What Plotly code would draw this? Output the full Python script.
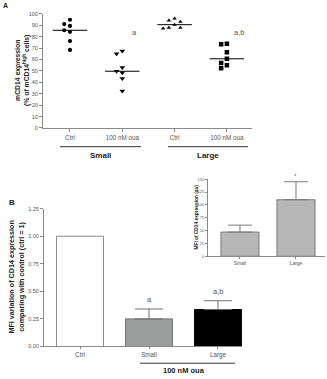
import plotly.graph_objects as go

W, H = 327, 379
def px(x): return x / W
def py(y): return 1 - y / H

# ---------------- data ----------------
a_ticklabels = ["Ctrl", "100 nM oua", "Ctrl", "100 nM oua"]
a_groups = ["Small", "Large"]
ctrl_small = [94.8, 91.0, 89.4, 85.6, 84.2, 76.1, 68.4]
oua_small = [67.5, 65.0, 52.9, 49.7, 48.3, 43.4, 32.5]
ctrl_large = [95.9, 94.2, 93.1, 90.5, 87.9, 87.9, 87.1]
oua_large = [73.9, 73.3, 66.4, 60.6, 56.9, 54.9, 52.3]
a_sig = ["", "a", "", "a,b"]

b_categories = ["Ctrl", "Small", "Large"]
b_values = [1.0, 0.25, 0.335]
b_sem = [0.0, 0.09, 0.08]
b_sig = ["", "a", "a,b"]
b_group = "100 nM oua"

inset_categories = ["Small", "Large"]
inset_values = [47, 110]
inset_sem = [13.5, 35]
inset_sig = ["", "*"]

# ---------------- helpers ----------------
FONT = "Liberation Sans, Arial, sans-serif"
AXC = "#8a8a8a"
TXC = "#555555"

def dodge(vals, thr=4.3, step=0.11):
    order = sorted(range(len(vals)), key=lambda i: -vals[i])
    placed, offs = [], [0.0] * len(vals)
    for i in order:
        for s in [0, -1, 1, -2, 2, -3, 3]:
            if all(not (ps == s and abs(vals[i] - pv) < thr) for ps, pv in placed):
                offs[i] = s * step
                placed.append((s, vals[i]))
                break
    return offs

def median(v):
    s = sorted(v)
    n = len(s)
    return s[n // 2] if n % 2 else (s[n // 2 - 1] + s[n // 2]) / 2

fig = go.Figure()

series_a = [ctrl_small, oua_small, ctrl_large, oua_large]
symbols = ["circle", "triangle-down", "triangle-up", "square"]
sizes = [4.2, 5, 4, 4.5]
for k, (vals, sym, sz) in enumerate(zip(series_a, symbols, sizes)):
    xc = k + 1
    offs = dodge(vals)
    fig.add_trace(go.Scatter(
        x=[xc + o for o in offs], y=vals, mode="markers",
        marker=dict(symbol=sym, size=sz, color="black", line=dict(width=0)),
        xaxis="x", yaxis="y", showlegend=False, hoverinfo="skip"))
    m = median(vals)
    fig.add_trace(go.Scatter(
        x=[xc - 0.33, xc + 0.33], y=[m, m], mode="lines",
        line=dict(color="black", width=1), xaxis="x", yaxis="y",
        showlegend=False, hoverinfo="skip"))

# panel B bars (one trace per bar so only bars with an error get one)
b_fill = ["white", "#9d9f9e", "#000000"]
b_line = ["#8a8a8a", "#6f6f6f", "#000000"]
for k in range(len(b_categories)):
    err = None
    if b_sem[k] > 0:
        err = dict(type="data", array=[b_sem[k]], arrayminus=[0], symmetric=False,
                   color="#6f6f6f", thickness=1, width=14)
    fig.add_trace(go.Bar(
        x=[k + 1], y=[b_values[k]], width=0.68,
        marker=dict(color=b_fill[k], line=dict(color=b_line[k], width=1)),
        error_y=err, xaxis="x2", yaxis="y2", showlegend=False, hoverinfo="skip"))

# inset bars
fig.add_trace(go.Bar(
    x=[1, 2], y=inset_values, width=0.68,
    marker=dict(color="#b7b7b7", line=dict(color="#7a7a7a", width=1)),
    error_y=dict(type="data", array=inset_sem, arrayminus=[0, 0], symmetric=False,
                 color="#7a7a7a", thickness=1, width=12),
    xaxis="x3", yaxis="y3", showlegend=False, hoverinfo="skip"))

def axis_style(**kw):
    d = dict(showline=True, linecolor=AXC, linewidth=1, showgrid=False,
             zeroline=False, ticks="outside", tickcolor=AXC, ticklen=3,
             tickwidth=1, tickfont=dict(family=FONT, size=6.3, color=TXC))
    d.update(kw)
    return d

fig.update_layout(
    width=W, height=H, margin=dict(l=0, r=0, t=0, b=0),
    paper_bgcolor="white", plot_bgcolor="rgba(0,0,0,0)",
    font=dict(family=FONT), barmode="overlay",
    xaxis=axis_style(domain=[px(43), px(252)], range=[0.484, 4.48], anchor="y",
                     tickvals=[1, 2, 3, 4], ticktext=a_ticklabels, ticklen=3.5),
    yaxis=axis_style(domain=[py(127), py(11)], range=[0, 100], anchor="x",
                     dtick=10, tickfont=dict(family=FONT, size=5.5, color=TXC)),
    xaxis2=axis_style(domain=[px(44), px(242)], range=[0.478, 3.348], anchor="y2",
                      tickvals=[1, 2, 3], ticktext=b_categories, ticklen=2),
    yaxis2=axis_style(domain=[py(349), py(209)], range=[0, 1.25], anchor="x2",
                      tickvals=[0, 0.25, 0.5, 0.75, 1.0, 1.25], tickformat=".2f",
                      tickfont=dict(family=FONT, size=5.5, color=TXC)),
    xaxis3=axis_style(domain=[px(208), px(325)], range=[0.429, 2.518], anchor="y3",
                      tickvals=[1, 2], ticktext=inset_categories, ticklen=2,
                      tickfont=dict(family=FONT, size=5, color=TXC)),
    yaxis3=axis_style(domain=[py(257.3), py(179)], range=[0, 150], anchor="x3",
                      dtick=25, ticklen=2,
                      tickfont=dict(family=FONT, size=4, color=TXC)),
)

ann = []
def A(**kw):
    base = dict(showarrow=False, xanchor="center", yanchor="middle",
                font=dict(family=FONT, size=6, color="#222"))
    base.update(kw)
    ann.append(base)

# panel letters
A(text="<b>A</b>", x=px(5), y=py(3), xref="paper", yref="paper", font=dict(family=FONT, size=7, color="#222"))
A(text="<b>B</b>", x=px(12), y=py(203), xref="paper", yref="paper", font=dict(family=FONT, size=8, color="#222"))

# panel A y-title
A(text="<b>mCD14 expression</b><br><b>(% of mCD14<sup>high</sup> cells)</b>",
  x=px(23), y=py(69), xref="paper", yref="paper", textangle=-90,
  font=dict(family=FONT, size=6.8, color="#222"))

# panel A significance
for k, s in enumerate(a_sig):
    if s:
        A(text=s, x=k + 1 + 0.24, y=84, xref="x", yref="y",
          font=dict(family=FONT, size=7.5, color="#555"))

# panel A groups
for g, (x0, x1) in zip(a_groups, [(60, 141), (168, 248)]):
    fig.add_shape(type="line", xref="paper", yref="paper", x0=px(x0), x1=px(x1),
                  y0=py(146), y1=py(146), line=dict(color="#333", width=1))
    A(text="<b>" + g + "</b>", x=px((x0 + x1) / 2), y=py(154.5), xref="paper", yref="paper",
      font=dict(family=FONT, size=8, color="#222"))

# panel B y-title
A(text="<b>MFI variation of CD14 expression</b><br><b>comparing with control (ctrl = 1)</b>",
  x=px(16), y=py(279), xref="paper", yref="paper", textangle=-90,
  font=dict(family=FONT, size=7.2, color="#222"))

# panel B significance
for k, s in enumerate(b_sig):
    if s:
        top = b_values[k] + b_sem[k]
        A(text=s, x=k + 1, y=top, xref="x2", yref="y2", yanchor="bottom", yshift=3,
          font=dict(family=FONT, size=7.5, color="#555"))

# panel B group
fig.add_shape(type="line", xref="paper", yref="paper", x0=px(140), x1=px(235),
              y0=py(366), y1=py(366), line=dict(color="#333", width=1))
A(text="<b>" + b_group + "</b>", x=px(184), y=py(373.5), xref="paper", yref="paper",
  font=dict(family=FONT, size=7.5, color="#222"))

# inset title
A(text="<b>MFI of CD14 expression (au)</b>", x=px(197), y=py(218), xref="paper",
  yref="paper", textangle=-90, font=dict(family=FONT, size=4.8, color="#222"))

# inset significance
for k, s in enumerate(inset_sig):
    if s:
        top = inset_values[k] + inset_sem[k]
        A(text=s, x=k + 1, y=top, xref="x3", yref="y3", yanchor="bottom", yshift=1,
          font=dict(family=FONT, size=6, color="#555"))

fig.update_layout(annotations=ann)
fig.write_html("out.html")
